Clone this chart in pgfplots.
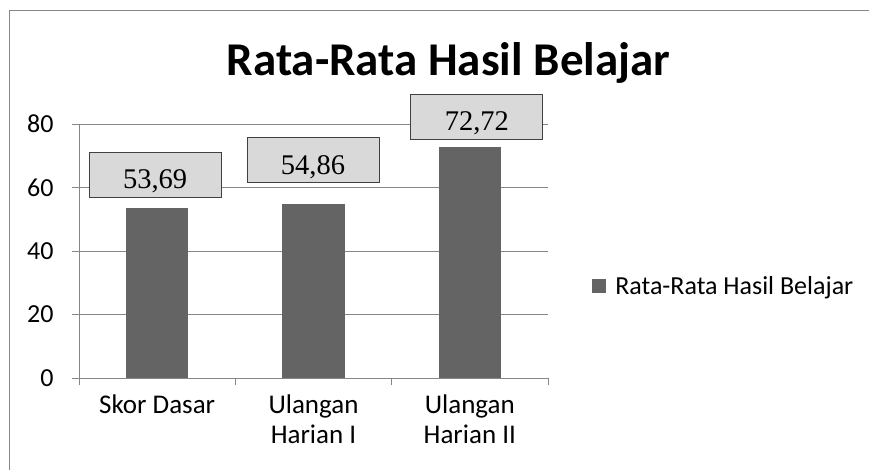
\documentclass[border=0pt]{standalone}
\usepackage{pgfplots}
\pgfplotsset{compat=1.18}
\usepackage{fontspec}
\setmainfont{Carlito}
\newfontfamily\timesf{Liberation Serif}
\definecolor{barc}{RGB}{100,100,100}
\definecolor{gridc}{RGB}{134,134,134}
\definecolor{boxf}{RGB}{217,217,217}
\definecolor{boxd}{RGB}{64,64,64}
\definecolor{framec}{RGB}{134,134,134}
\pgfplotsset{
  barbox/.style 2 args={ybar, bar width=0.4, bar shift=0pt, fill=barc, draw=none,
    legend image code/.code={\fill[barc] (0bp,-7bp) rectangle (14bp,7bp);},
    nodes near coords, point meta=explicit symbolic,
    every node near coord/.append style={
      font=\timesf\fontsize{28.5bp}{34bp}\selectfont,
      fill=boxf, draw=boxd, line width=0.75bp,
      minimum width=132bp, minimum height=45bp, inner sep=0pt,
      text height=28bp, text depth=0pt,
      anchor=center, xshift=#1, yshift=#2}},
}
\begin{document}
\begin{tikzpicture}
\clip (0,0) rectangle (869bp,470bp);
\fill[white] (0,0) rectangle (869bp,470bp);
\draw[framec, line width=1.5bp] (9.5bp,-20bp) rectangle (890bp,459.5bp);
\node[font=\fontsize{47bp}{54bp}\selectfont\bfseries, anchor=base, inner sep=0pt] at (448.5bp,394bp) {Rata-Rata Hasil Belajar};
\begin{axis}[
  at={(79bp,92bp)}, anchor=south west,
  scale only axis, width=469bp, height=254bp,
  xmin=-0.5, xmax=2.5, ymin=0, ymax=80,
  clip=false,
  axis x line*=bottom, axis y line*=left,
  axis line style={gridc, line width=1bp},
  tick align=outside, major tick length=7bp,
  tick style={gridc, line width=1bp},
  ytick={0,20,40,60,80},
  ymajorgrids, grid style={gridc, line width=1bp},
  xtick={-0.5,0.5,1.5,2.5}, xticklabels={},
  extra x ticks={0,1,2},
  extra x tick labels={Skor Dasar, {Ulangan\\Harian I}, {Ulangan\\Harian II}},
  extra x tick style={major tick length=0pt},
  xticklabel style={align=center, yshift=-13bp, font=\fontsize{27bp}{30.5bp}\selectfont},
  yticklabel style={xshift=-15bp, font=\fontsize{26bp}{31bp}\selectfont},
  /pgf/number format/assume math mode=true,
  legend style={draw=none, fill=none, at={(1.094,0.362)}, anchor=west,
    font=\fontsize{26bp}{32bp}\selectfont, inner sep=0pt,
    /tikz/every odd column/.append style={column sep=7bp}},
]
\addplot[barbox={-2bp}{33bp}] coordinates {(0,53.69) [53,69]};
\addlegendentry{Rata-Rata Hasil Belajar}
\addplot[barbox={-0.5bp}{43.5bp}, forget plot] coordinates {(1,54.86) [54,86]};
\addplot[barbox={7bp}{30.5bp}, forget plot] coordinates {(2,72.72) [72,72]};
\end{axis}
\end{tikzpicture}
\end{document}
